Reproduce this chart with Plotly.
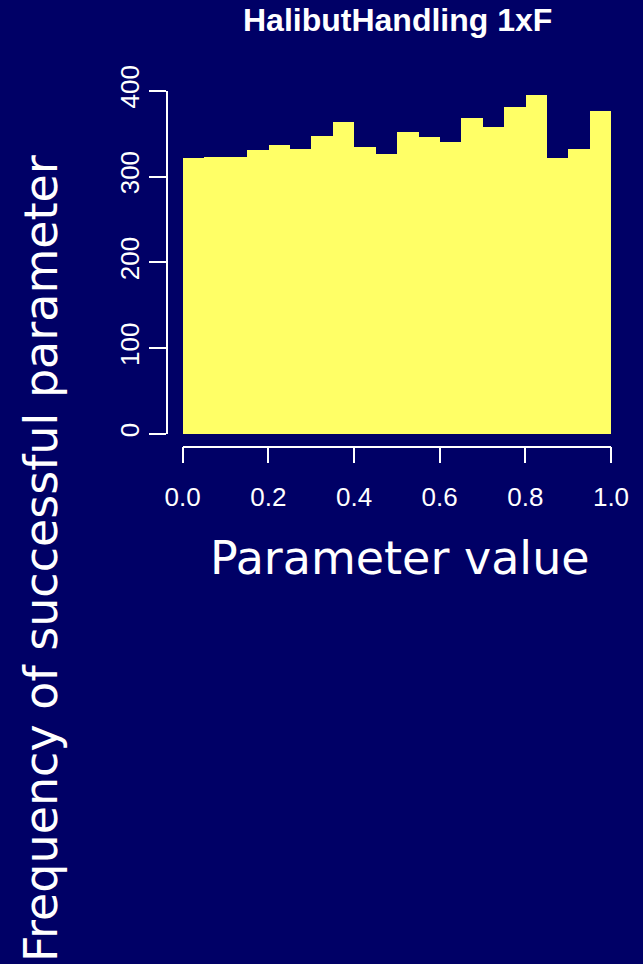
import plotly.graph_objects as go

# histogram of successful parameter values, 20 bins over [0, 1]
bin_left = [i * 0.05 for i in range(20)]
counts = [322, 323, 323, 331, 337, 333, 348, 364, 335, 327,
          352, 346, 341, 369, 358, 381, 395, 322, 333, 377]
x_ticks = [0.0, 0.2, 0.4, 0.6, 0.8, 1.0]
x_ticktext = ["0.0", "0.2", "0.4", "0.6", "0.8", "1.0"]
y_ticks = [0, 100, 200, 300, 400]

W, H = 643, 964
navy = "#000066"
yellow = "#FFFF66"

centers = [b + 0.025 for b in bin_left]

fig = go.Figure()
fig.add_trace(go.Bar(x=centers, y=counts, width=0.05,
                     marker=dict(color=yellow, line=dict(width=0))))

tick_font = dict(family="Liberation Sans, Arial", size=26, color="white")

fig.update_layout(
    width=W, height=H,
    margin=dict(l=0, r=0, t=0, b=0),
    paper_bgcolor=navy, plot_bgcolor=navy,
    showlegend=False, bargap=0,
    xaxis=dict(domain=[182.7 / W, 611 / W], range=[0, 1],
               anchor="free", position=1 - 446.7 / H,
               showline=True, linecolor="white", linewidth=1.5,
               ticks="outside", ticklen=16, tickwidth=1.5, tickcolor="white",
               tickvals=x_ticks, ticktext=x_ticktext, tickfont=tick_font,
               ticklabelstandoff=11,
               showgrid=False, zeroline=False, automargin=False),
    yaxis=dict(domain=[1 - 434 / H, 1 - 90.7 / H], range=[0, 400],
               anchor="free", position=166.7 / W,
               showline=True, linecolor="white", linewidth=1.5,
               ticks="outside", ticklen=17, tickwidth=1.5, tickcolor="white",
               tickvals=y_ticks, tickangle=-90, tickfont=tick_font,
               showgrid=False, zeroline=False, automargin=False),
)

fig.add_annotation(text="<b>HalibutHandling 1xF</b>", x=397 / W, y=1 - 20 / H,
                   xref="paper", yref="paper", showarrow=False,
                   xanchor="center", yanchor="middle",
                   font=dict(family="Liberation Sans, Arial", size=32, color="white"))
fig.add_annotation(text="Parameter value", x=400 / W, y=1 - 558 / H,
                   xref="paper", yref="paper", showarrow=False,
                   xanchor="center", yanchor="middle",
                   font=dict(family="DejaVu Sans", size=46, color="white"))
fig.add_annotation(text="Frequency of successful parameter", x=41 / W, y=1 - 559 / H,
                   xref="paper", yref="paper", showarrow=False, textangle=-90,
                   xanchor="center", yanchor="middle",
                   font=dict(family="DejaVu Sans", size=46, color="white"))

fig.write_html("out.html", config={"displayModeBar": False},
               post_script="document.body.style.margin='0';")
